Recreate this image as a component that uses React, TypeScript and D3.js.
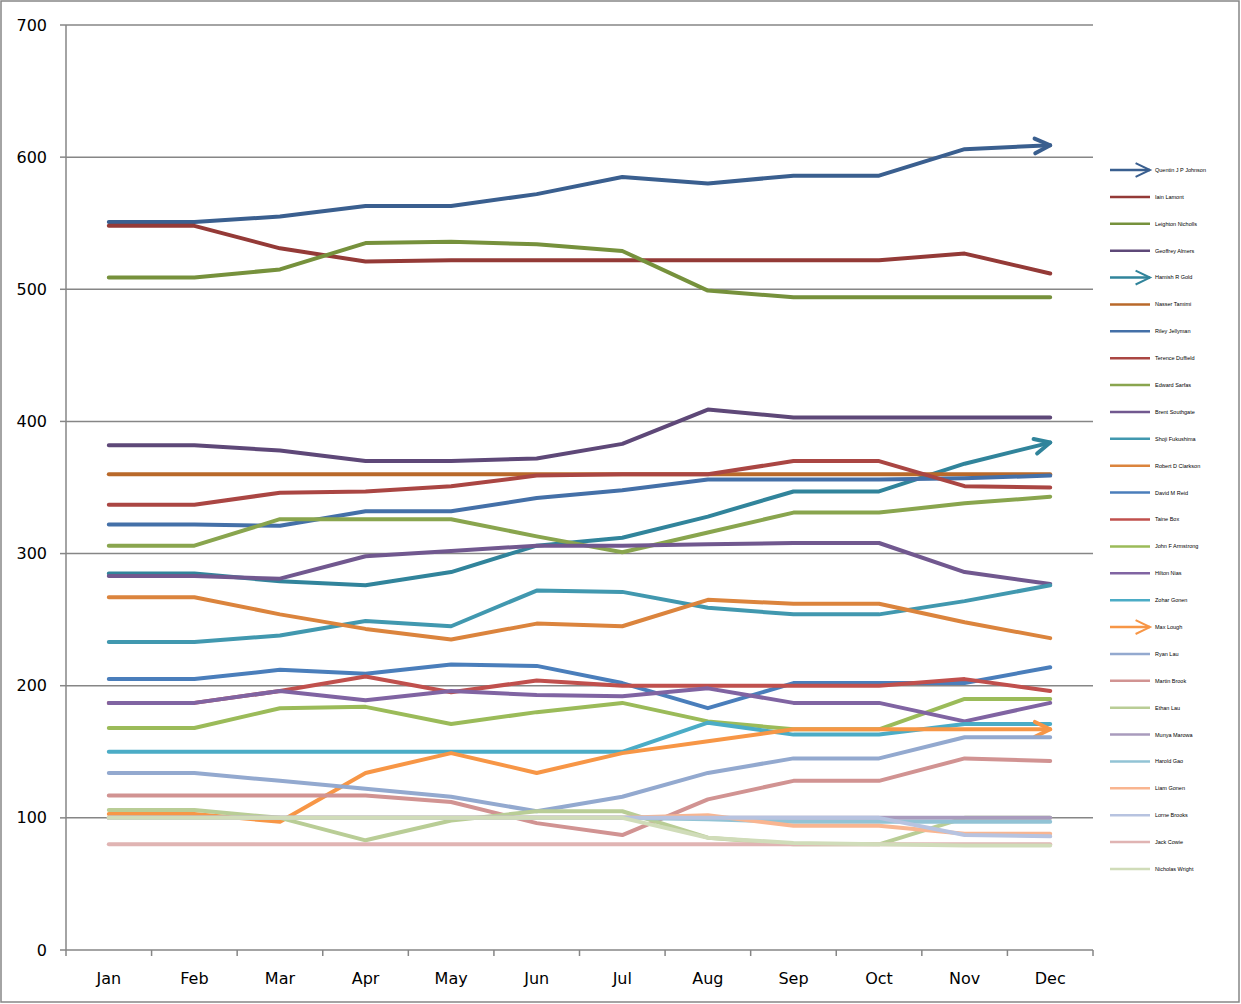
import { useEffect } from 'react';
import * as d3 from 'd3';

const months = ['Jan', 'Feb', 'Mar', 'Apr', 'May', 'Jun', 'Jul', 'Aug', 'Sep', 'Oct', 'Nov', 'Dec'];
const yTicks = [0, 100, 200, 300, 400, 500, 600, 700];

const names = [
  'Quentin J P Johnson', 'Iain Lamont', 'Leighton Nicholls', 'Geoffrey Almers', 'Hamish R Gold',
  'Nasser Tamimi', 'Riley Jellyman', 'Terence Duffield', 'Edward Sarfas', 'Brent Southgate',
  'Shoji Fukushima', 'Robert D Clarkson', 'David M Reid', 'Taine Box', 'John F Armstrong',
  'Hilton Nias', 'Zohar Gonen', 'Max Lough', 'Ryan Lau', 'Martin Brook', 'Ethan Lau',
  'Munya Marowa', 'Harold Gao', 'Liam Gonen', 'Lorne Brooks', 'Jack Cowie', 'Nicholas Wright',
];

const colors = [
  '#3A5F8F', '#943A37', '#76913C', '#5E4878', '#31849B',
  '#B9692A', '#4470A8', '#AA4643', '#89A54E', '#71588F',
  '#4198AF', '#DB843D', '#4A7EBB', '#C0504D', '#9BBB59',
  '#8064A2', '#4BACC6', '#F79646', '#93A9CF', '#D19392', '#B9CD96',
  '#A99BBD', '#92C3D5', '#F9B590', '#B7C3E0', '#E0B4B3', '#D0DCB9',
];

const arrowSeries = ['Quentin J P Johnson', 'Hamish R Gold', 'Max Lough'];

const values: number[][] = [
  [551, 551, 555, 563, 563, 572, 585, 580, 586, 586, 606, 609],
  [548, 548, 531, 521, 522, 522, 522, 522, 522, 522, 527, 512],
  [509, 509, 515, 535, 536, 534, 529, 499, 494, 494, 494, 494],
  [382, 382, 378, 370, 370, 372, 383, 409, 403, 403, 403, 403],
  [285, 285, 279, 276, 286, 306, 312, 328, 347, 347, 368, 384],
  [360, 360, 360, 360, 360, 360, 360, 360, 360, 360, 360, 360],
  [322, 322, 321, 332, 332, 342, 348, 356, 356, 356, 357, 359],
  [337, 337, 346, 347, 351, 359, 360, 360, 370, 370, 351, 350],
  [306, 306, 326, 326, 326, 313, 301, 316, 331, 331, 338, 343],
  [283, 283, 281, 298, 302, 306, 306, 307, 308, 308, 286, 277],
  [233, 233, 238, 249, 245, 272, 271, 259, 254, 254, 264, 276],
  [267, 267, 254, 243, 235, 247, 245, 265, 262, 262, 248, 236],
  [205, 205, 212, 209, 216, 215, 202, 183, 202, 202, 202, 214],
  [187, 187, 196, 207, 195, 204, 200, 200, 200, 200, 205, 196],
  [168, 168, 183, 184, 171, 180, 187, 173, 167, 167, 190, 190],
  [187, 187, 196, 189, 196, 193, 192, 198, 187, 187, 173, 187],
  [150, 150, 150, 150, 150, 150, 150, 172, 163, 163, 171, 171],
  [103, 103, 97, 134, 149, 134, 149, 158, 167, 167, 167, 167],
  [134, 134, 128, 122, 116, 105, 116, 134, 145, 145, 161, 161],
  [117, 117, 117, 117, 112, 96, 87, 114, 128, 128, 145, 143],
  [106, 106, 100, 83, 98, 105, 105, 85, 80, 80, 100, 100],
  [100, 100, 100, 100, 100, 100, 100, 100, 100, 100, 100, 100],
  [100, 100, 100, 100, 100, 100, 100, 99, 97, 97, 97, 97],
  [100, 100, 100, 100, 100, 100, 100, 102, 94, 94, 88, 88],
  [100, 100, 100, 100, 100, 100, 100, 100, 100, 100, 87, 86],
  [80, 80, 80, 80, 80, 80, 80, 80, 80, 80, 80, 80],
  [100, 100, 100, 100, 100, 100, 100, 85, 81, 80, 79, 79],
];

const W = 1241;
const H = 1004;
const plot = { left: 66, right: 1093, top: 25, bottom: 950 };

function arrowHead(x0: number, y0: number, x1: number, y1: number, len = 17, spread = 0.45) {
  const a = Math.atan2(y1 - y0, x1 - x0);
  const p1 = [x1 - len * Math.cos(a - spread), y1 - len * Math.sin(a - spread)];
  const p2 = [x1 - len * Math.cos(a + spread), y1 - len * Math.sin(a + spread)];
  return `M${p1[0]},${p1[1]}L${x1},${y1}L${p2[0]},${p2[1]}`;
}

export default function App() {
  useEffect(() => {
    document.body.style.margin = '0';
  }, []);

  const x = d3.scaleBand<string>().domain(months).range([plot.left, plot.right]);
  const y = d3.scaleLinear().domain([0, 700]).range([plot.bottom, plot.top]);
  const cx = (m: string) => (x(m) ?? 0) + x.bandwidth() / 2;

  const line = d3.line<number>()
    .x((_, i) => cx(months[i]))
    .y(d => y(d));

  const legendY = d3.scalePoint<string>().domain(names).range([170, 869]);
  const font = 'DejaVu Sans, Verdana, sans-serif';
  const boundaries = d3.range(months.length + 1).map(i => plot.left + i * x.bandwidth());

  return (
    <svg width={W} height={H} style={{ display: 'block' }}>
      <rect x={0} y={0} width={W} height={H} fill="#fff" />
      <rect x={1} y={1} width={W - 3} height={H - 3} fill="none" stroke="#868686" strokeWidth={1.5} />

      {/* gridlines */}
      {yTicks.filter(t => t > 0).map(t => (
        <line key={t} x1={plot.left} x2={plot.right} y1={y(t)} y2={y(t)} stroke="#868686" strokeWidth={1.5} />
      ))}

      {/* axes */}
      <line x1={plot.left} x2={plot.left} y1={plot.top} y2={plot.bottom} stroke="#868686" strokeWidth={1.5} />
      <line x1={plot.left} x2={plot.right} y1={plot.bottom} y2={plot.bottom} stroke="#868686" strokeWidth={1.5} />
      {yTicks.map(t => (
        <g key={t}>
          <line x1={plot.left - 6} x2={plot.left} y1={y(t)} y2={y(t)} stroke="#868686" strokeWidth={1.5} />
          <text x={47} y={y(t)} dy="0.35em" textAnchor="end" fontFamily={font} fontSize={16}>{t}</text>
        </g>
      ))}
      {boundaries.map((b, i) => (
        <line key={i} x1={b} x2={b} y1={plot.bottom} y2={plot.bottom + 6} stroke="#868686" strokeWidth={1.5} />
      ))}
      {months.map(m => (
        <text key={m} x={cx(m)} y={984} textAnchor="middle" fontFamily={font} fontSize={16}>{m}</text>
      ))}

      {/* series */}
      {values.map((vals, si) => {
        const n = vals.length;
        const hasArrow = arrowSeries.includes(names[si]);
        return (
          <g key={names[si]}>
            <path d={line(vals) ?? ''} fill="none" stroke={colors[si]} strokeWidth={4}
              strokeLinejoin="round" strokeLinecap="round" />
            {hasArrow && (
              <path d={arrowHead(cx(months[n - 2]), y(vals[n - 2]), cx(months[n - 1]), y(vals[n - 1]))}
                fill="none" stroke={colors[si]} strokeWidth={4} strokeLinecap="round" strokeLinejoin="round" />
            )}
          </g>
        );
      })}

      {/* legend */}
      {names.map((nm, si) => {
        const ly = legendY(nm) ?? 0;
        const hasArrow = arrowSeries.includes(nm);
        return (
          <g key={nm}>
            <line x1={1110} x2={1150} y1={ly} y2={ly} stroke={colors[si]} strokeWidth={2.5} />
            {hasArrow && (
              <path d={arrowHead(1110, ly, 1150, ly, 16, 0.45)} fill="none" stroke={colors[si]} strokeWidth={2} />
            )}
            <text x={1155} y={ly} dy="0.35em" fontFamily="Liberation Sans, Arial, sans-serif" fontSize={5.5} fill="#000">{nm}</text>
          </g>
        );
      })}
    </svg>
  );
}
